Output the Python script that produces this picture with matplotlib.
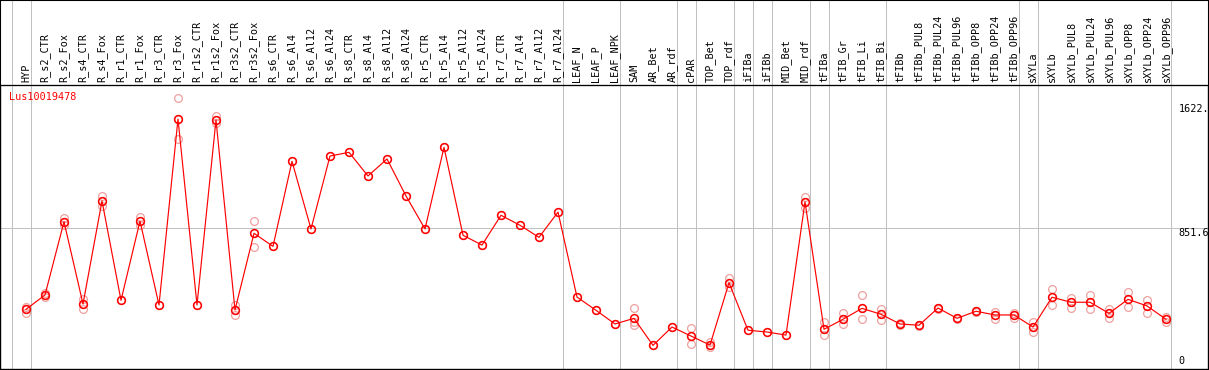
import matplotlib
matplotlib.use("Agg")
from matplotlib import pyplot as plt
from matplotlib.patches import Rectangle
import numpy as np

# samples (x axis, rotated labels on top)
categories = [
    "HYP", "R_s2_CTR", "R_s2_Fox", "R_s4_CTR", "R_s4_Fox", "R_r1_CTR", "R_r1_Fox",
    "R_r3_CTR", "R_r3_Fox", "R_r1s2_CTR", "R_r1s2_Fox", "R_r3s2_CTR", "R_r3s2_Fox",
    "R_s6_CTR", "R_s6_Al4", "R_s6_Al12", "R_s6_Al24", "R_s8_CTR", "R_s8_Al4",
    "R_s8_Al12", "R_s8_Al24", "R_r5_CTR", "R_r5_Al4", "R_r5_Al12", "R_r5_Al24",
    "R_r7_CTR", "R_r7_Al4", "R_r7_Al12", "R_r7_Al24", "LEAF_N", "LEAF_P", "LEAF_NPK",
    "SAM", "AR_Bet", "AR_rdf", "cPAR", "TOP_Bet", "TOP_rdf", "iFIBa", "iFIBb",
    "MID_Bet", "MID_rdf", "tFIBa", "tFIB_Gr", "tFIB_Li", "tFIB_Bi", "tFIBb",
    "tFIBb_PUL8", "tFIBb_PUL24", "tFIBb_PUL96", "tFIBb_OPP8", "tFIBb_OPP24",
    "tFIBb_OPP96", "sXYLa", "sXYLb", "sXYLb_PUL8", "sXYLb_PUL24", "sXYLb_PUL96",
    "sXYLb_OPP8", "sXYLb_OPP24", "sXYLb_OPP96",
]

# mean expression per sample
means = [
    349, 438, 893, 382, 1022, 405, 897, 376, 1531, 376, 1525, 345, 821,
    740, 1268, 848, 1301, 1324, 1177, 1283, 1053, 848, 1355, 809, 748,
    933, 871, 796, 953, 425, 343, 258,
    293, 125, 239, 183, 127, 514, 219, 208, 189, 1016,
    225, 287, 355, 318, 258, 250, 357, 293, 337, 314, 314,
    239, 424, 393, 393, 324, 411, 370, 287,
]

# individual replicates
replicates = [
    [365, 349, 324], [448, 438, 424], [918, 893, 873], [411, 382, 351],
    [1053, 1022, 991], [405], [922, 897, 873], [376], [1660, 1531, 1407],
    [376], [1552, 1525, 1504], [376, 345, 314], [897, 821, 738],
    [740], [1268], [848], [1301], [1324], [1177], [1283], [1053], [848],
    [1355], [809], [748], [933], [871], [796], [953], [425], [343], [258],
    [357, 268, 252], [125], [239], [233, 183, 132], [148, 127, 115],
    [542, 514, 486], [219], [208], [189], [1048, 1016, 978],
    [268, 225, 189], [328, 287, 260], [436, 355, 287], [351, 318, 281],
    [262, 258, 254], [254, 250, 246], [360, 357, 354], [296, 293, 290],
    [340, 337, 334], [330, 314, 289], [328, 314, 295],
    [272, 239, 210], [473, 424, 376], [421, 393, 359], [438, 393, 349],
    [353, 324, 297], [457, 411, 361], [407, 370, 328], [299, 287, 272],
]

# index of the last sample in each group (grey separators)
group_ends = [-1, 0, 28, 31, 34, 35, 37, 38, 39, 41, 42, 45, 52, 53, 60]

ytick_values = [1622, 851.6, 0]
ytick_labels = ["1622.", "851.6", "0"]
gene = "Lus10019478"

mono = "DejaVu Sans Mono"
fs = 7.3
px = 0.72  # one pixel in points

W, H = 1209, 370
fig = plt.figure(figsize=(W / 100, H / 100), dpi=100)
ax = fig.add_axes([0, 1 / H, 1208 / W, 284 / H])

x = np.arange(len(categories))
step = 19.0
ax.set_xlim(-26 / step, (1208 - 26) / step)
ax.set_ylim(-21.7, 1742.2)

grey = "#c0c0c0"
top_ext = 369 / 284  # grid lines run up through the label band
for g in group_ends:
    ax.axvline(g + 0.24, ymin=0, ymax=top_ext, color=grey, lw=px,
               clip_on=False, zorder=1, antialiased=False)
ax.axhline(851.6, color=grey, lw=px, zorder=1, antialiased=False)

# replicates
for i, reps in enumerate(replicates):
    ax.plot([i] * len(reps), reps, linestyle="none", marker="o", ms=5.6,
            mfc="none", mec="#f0a0a0", mew=0.9, zorder=2)

ax.plot(x, means, color="red", lw=0.85, zorder=3)
ax.plot(x, means, linestyle="none", marker="o", ms=5.6, mfc="none",
        mec="red", mew=1.1, zorder=4)

for i, name in enumerate(categories):
    ax.text(i, 1.011, name, transform=ax.get_xaxis_transform(), rotation=90,
            ha="center", va="bottom", fontsize=fs, family=mono, clip_on=False)

xr = len(categories) - 1 + 0.66
for v, lab in zip(ytick_values, ytick_labels):
    ax.text(xr, v, lab, ha="left", va="bottom" if v == 0 else "top",
            fontsize=fs, family=mono, color="black")

ax.text(0.0077, 0.957, gene, transform=ax.transAxes, ha="left", va="center",
        fontsize=fs, family=mono, color="red")

ax.set_xticks([])
ax.set_yticks([])
for s in ax.spines.values():
    s.set_linewidth(px * 1.3)
    s.set_color("black")

fig.patches.append(Rectangle((0, 0), 1, 1, transform=fig.transFigure,
                             fill=False, edgecolor="black", lw=1.5))

fig.savefig("out.png", dpi=100)
